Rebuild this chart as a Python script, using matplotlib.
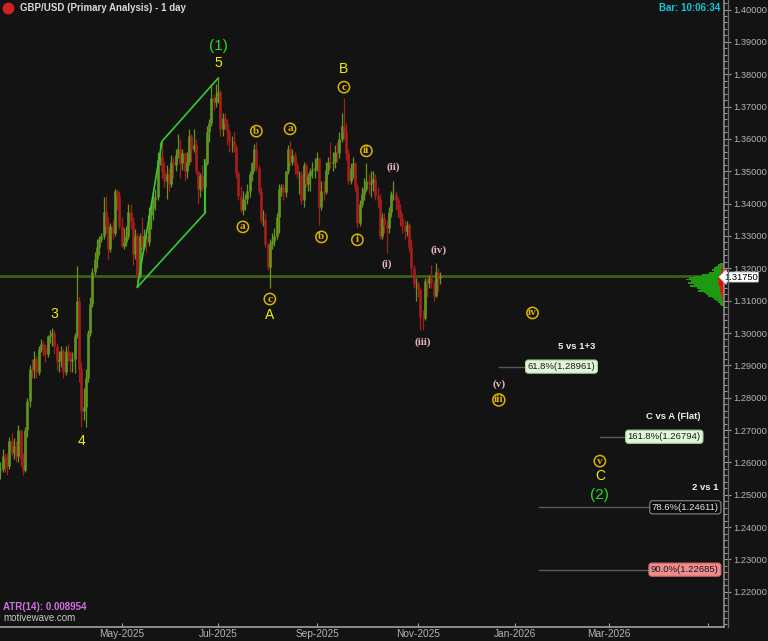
# gbpusd_wave_chart.py - GBP/USD daily bars with Elliott wave count and fib targets

import matplotlib
matplotlib.use("Agg")
import matplotlib.pyplot as plt
import numpy as np
import pandas as pd
from matplotlib.ticker import MultipleLocator, FormatStrFormatter

first_day = "2025-02-14"

opens = [
    1.2575, 1.2580, 1.2620, 1.2615, 1.2590, 1.2665, 1.2630, 1.2650, 1.2620, 1.2700,
    1.2610, 1.2575, 1.2700, 1.2790, 1.2890, 1.2885, 1.2920, 1.2880, 1.2950, 1.2965,
    1.2955, 1.2935, 1.2990, 1.2995, 1.3000, 1.2960, 1.2915, 1.2920, 1.2945, 1.2880,
    1.2945, 1.2940, 1.2915, 1.2920, 1.2990, 1.3100, 1.2890, 1.2760, 1.2770, 1.2860,
    1.3000, 1.3090, 1.3190, 1.3230, 1.3265, 1.3290, 1.3300, 1.3375, 1.3330, 1.3260,
    1.3330, 1.3310, 1.3440, 1.3425, 1.3330, 1.3270, 1.3280, 1.3300, 1.3375, 1.3345,
    1.3245, 1.3300, 1.3180, 1.3300, 1.3265, 1.3300, 1.3280, 1.3365, 1.3385, 1.3415,
    1.3420, 1.3535, 1.3545, 1.3500, 1.3470, 1.3490, 1.3460, 1.3530, 1.3520, 1.3550,
    1.3570, 1.3525, 1.3555, 1.3500, 1.3530, 1.3610, 1.3570, 1.3580, 1.3500, 1.3445,
    1.3485, 1.3450, 1.3525, 1.3620, 1.3650, 1.3725, 1.3715, 1.3730, 1.3745, 1.3630,
    1.3665, 1.3650, 1.3625, 1.3595, 1.3595, 1.3575, 1.3495, 1.3425, 1.3380, 1.3415,
    1.3415, 1.3440, 1.3490, 1.3525, 1.3570, 1.3510, 1.3440, 1.3350, 1.3350, 1.3275,
    1.3205, 1.3275, 1.3285, 1.3300, 1.3360, 1.3445, 1.3450, 1.3435, 1.3500, 1.3570,
    1.3530, 1.3550, 1.3520, 1.3490, 1.3490, 1.3410, 1.3520, 1.3460, 1.3485, 1.3500,
    1.3505, 1.3510, 1.3540, 1.3390, 1.3440, 1.3435, 1.3505, 1.3530, 1.3525, 1.3530,
    1.3560, 1.3555, 1.3600, 1.3640, 1.3620, 1.3555, 1.3470, 1.3510, 1.3525, 1.3450,
    1.3340, 1.3400, 1.3430, 1.3445, 1.3470, 1.3460, 1.3465, 1.3475, 1.3425, 1.3415,
    1.3300, 1.3355, 1.3335, 1.3325, 1.3375, 1.3430, 1.3430, 1.3410, 1.3380, 1.3355,
    1.3330, 1.3315, 1.3335, 1.3265, 1.3200, 1.3150, 1.3150, 1.3135, 1.3050, 1.3045,
    1.3160, 1.3155, 1.3170, 1.3155, 1.3115, 1.3190, 1.3170,
]
highs = [
    1.2600, 1.2640, 1.2630, 1.2630, 1.2680, 1.2690, 1.2675, 1.2665, 1.2715, 1.2700,
    1.2630, 1.2710, 1.2800, 1.2900, 1.2920, 1.2945, 1.2930, 1.2960, 1.2980, 1.2975,
    1.2965, 1.2995, 1.3010, 1.3015, 1.3010, 1.2970, 1.2945, 1.2960, 1.2950, 1.2960,
    1.2965, 1.2945, 1.2940, 1.3000, 1.3207, 1.3110, 1.2910, 1.2830, 1.2890, 1.3010,
    1.3110, 1.3200, 1.3250, 1.3290, 1.3300, 1.3310, 1.3420, 1.3423, 1.3360, 1.3340,
    1.3350, 1.3445, 1.3445, 1.3440, 1.3360, 1.3325, 1.3330, 1.3400, 1.3400, 1.3360,
    1.3320, 1.3310, 1.3310, 1.3360, 1.3320, 1.3320, 1.3390, 1.3400, 1.3440, 1.3445,
    1.3560, 1.3590, 1.3590, 1.3530, 1.3520, 1.3510, 1.3550, 1.3545, 1.3570, 1.3615,
    1.3600, 1.3570, 1.3560, 1.3560, 1.3630, 1.3615, 1.3630, 1.3600, 1.3500, 1.3495,
    1.3520, 1.3530, 1.3640, 1.3660, 1.3770, 1.3740, 1.3770, 1.3788, 1.3750, 1.3680,
    1.3680, 1.3660, 1.3630, 1.3610, 1.3620, 1.3580, 1.3500, 1.3455, 1.3440, 1.3430,
    1.3460, 1.3500, 1.3530, 1.3585, 1.3590, 1.3520, 1.3450, 1.3380, 1.3370, 1.3280,
    1.3290, 1.3310, 1.3325, 1.3370, 1.3460, 1.3460, 1.3460, 1.3500, 1.3580, 1.3595,
    1.3570, 1.3560, 1.3530, 1.3500, 1.3500, 1.3530, 1.3525, 1.3495, 1.3510, 1.3530,
    1.3540, 1.3560, 1.3540, 1.3470, 1.3470, 1.3530, 1.3545, 1.3590, 1.3560, 1.3580,
    1.3590, 1.3620, 1.3680, 1.3726, 1.3650, 1.3570, 1.3525, 1.3545, 1.3530, 1.3460,
    1.3410, 1.3450, 1.3480, 1.3527, 1.3490, 1.3500, 1.3500, 1.3490, 1.3450, 1.3430,
    1.3370, 1.3370, 1.3350, 1.3390, 1.3440, 1.3471, 1.3440, 1.3420, 1.3400, 1.3370,
    1.3350, 1.3345, 1.3340, 1.3290, 1.3210, 1.3170, 1.3160, 1.3140, 1.3070, 1.3170,
    1.3170, 1.3180, 1.3210, 1.3165, 1.3215, 1.3200, 1.3190,
]
lows = [
    1.2550, 1.2570, 1.2570, 1.2560, 1.2580, 1.2620, 1.2610, 1.2600, 1.2600, 1.2590,
    1.2560, 1.2570, 1.2680, 1.2770, 1.2860, 1.2860, 1.2860, 1.2870, 1.2940, 1.2930,
    1.2910, 1.2925, 1.2970, 1.2960, 1.2935, 1.2885, 1.2880, 1.2895, 1.2860, 1.2870,
    1.2915, 1.2880, 1.2880, 1.2875, 1.2985, 1.2850, 1.2708, 1.2730, 1.2710, 1.2850,
    1.2990, 1.3080, 1.3180, 1.3200, 1.3240, 1.3280, 1.3290, 1.3310, 1.3230, 1.3250,
    1.3290, 1.3300, 1.3380, 1.3320, 1.3265, 1.3260, 1.3270, 1.3290, 1.3320, 1.3210,
    1.3230, 1.3140, 1.3170, 1.3260, 1.3260, 1.3250, 1.3270, 1.3320, 1.3350, 1.3380,
    1.3410, 1.3520, 1.3480, 1.3450, 1.3415, 1.3440, 1.3450, 1.3480, 1.3500, 1.3540,
    1.3480, 1.3505, 1.3470, 1.3480, 1.3520, 1.3530, 1.3560, 1.3490, 1.3400, 1.3420,
    1.3440, 1.3370, 1.3520, 1.3590, 1.3640, 1.3690, 1.3700, 1.3710, 1.3610, 1.3610,
    1.3630, 1.3580, 1.3560, 1.3560, 1.3560, 1.3480, 1.3410, 1.3375, 1.3365, 1.3380,
    1.3400, 1.3420, 1.3470, 1.3500, 1.3500, 1.3430, 1.3340, 1.3330, 1.3265, 1.3195,
    1.3140, 1.3260, 1.3270, 1.3290, 1.3310, 1.3425, 1.3410, 1.3420, 1.3490, 1.3520,
    1.3520, 1.3490, 1.3480, 1.3430, 1.3400, 1.3390, 1.3450, 1.3440, 1.3440, 1.3480,
    1.3480, 1.3500, 1.3335, 1.3380, 1.3410, 1.3430, 1.3490, 1.3510, 1.3500, 1.3510,
    1.3530, 1.3540, 1.3590, 1.3600, 1.3535, 1.3460, 1.3460, 1.3480, 1.3440, 1.3325,
    1.3330, 1.3390, 1.3410, 1.3440, 1.3430, 1.3420, 1.3440, 1.3410, 1.3390, 1.3290,
    1.3290, 1.3310, 1.3248, 1.3310, 1.3360, 1.3410, 1.3380, 1.3360, 1.3330, 1.3310,
    1.3290, 1.3300, 1.3250, 1.3180, 1.3140, 1.3100, 1.3110, 1.3010, 1.3010, 1.3040,
    1.3110, 1.3140, 1.3140, 1.3100, 1.3110, 1.3130, 1.3150,
]
closes = [
    1.2580, 1.2620, 1.2615, 1.2590, 1.2665, 1.2630, 1.2650, 1.2620, 1.2700, 1.2610,
    1.2575, 1.2700, 1.2790, 1.2890, 1.2885, 1.2920, 1.2880, 1.2950, 1.2965, 1.2955,
    1.2935, 1.2990, 1.2995, 1.3000, 1.2960, 1.2915, 1.2920, 1.2945, 1.2880, 1.2945,
    1.2940, 1.2915, 1.2920, 1.2990, 1.3100, 1.2890, 1.2760, 1.2770, 1.2860, 1.3000,
    1.3090, 1.3190, 1.3230, 1.3265, 1.3290, 1.3300, 1.3375, 1.3330, 1.3260, 1.3330,
    1.3310, 1.3440, 1.3425, 1.3330, 1.3270, 1.3280, 1.3300, 1.3375, 1.3345, 1.3245,
    1.3300, 1.3180, 1.3300, 1.3265, 1.3300, 1.3280, 1.3365, 1.3385, 1.3415, 1.3420,
    1.3535, 1.3545, 1.3500, 1.3470, 1.3490, 1.3460, 1.3530, 1.3520, 1.3550, 1.3570,
    1.3525, 1.3555, 1.3500, 1.3530, 1.3610, 1.3570, 1.3580, 1.3500, 1.3445, 1.3485,
    1.3450, 1.3525, 1.3620, 1.3650, 1.3725, 1.3715, 1.3730, 1.3745, 1.3630, 1.3665,
    1.3650, 1.3625, 1.3595, 1.3595, 1.3575, 1.3495, 1.3425, 1.3380, 1.3415, 1.3415,
    1.3440, 1.3490, 1.3525, 1.3570, 1.3510, 1.3440, 1.3350, 1.3350, 1.3275, 1.3205,
    1.3275, 1.3285, 1.3300, 1.3360, 1.3445, 1.3450, 1.3435, 1.3500, 1.3570, 1.3530,
    1.3550, 1.3520, 1.3490, 1.3490, 1.3410, 1.3520, 1.3460, 1.3485, 1.3500, 1.3505,
    1.3510, 1.3540, 1.3390, 1.3440, 1.3435, 1.3505, 1.3530, 1.3525, 1.3530, 1.3560,
    1.3555, 1.3600, 1.3640, 1.3620, 1.3555, 1.3470, 1.3510, 1.3525, 1.3450, 1.3340,
    1.3400, 1.3430, 1.3445, 1.3470, 1.3460, 1.3465, 1.3475, 1.3425, 1.3415, 1.3300,
    1.3355, 1.3335, 1.3325, 1.3375, 1.3430, 1.3430, 1.3410, 1.3380, 1.3355, 1.3330,
    1.3315, 1.3335, 1.3265, 1.3200, 1.3150, 1.3150, 1.3135, 1.3050, 1.3045, 1.3160,
    1.3155, 1.3170, 1.3155, 1.3115, 1.3190, 1.3170, 1.3175,
]

last_price = 1.3175

# volume-by-price profile on the right edge (relative volume)
profile_prices = [1.3215, 1.3210, 1.3205, 1.3200, 1.3195, 1.3190, 1.3185, 1.3180, 1.3175,
                  1.3170, 1.3165, 1.3160, 1.3155, 1.3150, 1.3145, 1.3140, 1.3135, 1.3130,
                  1.3125, 1.3120, 1.3115, 1.3110, 1.3105, 1.3100, 1.3095, 1.3090, 1.3085]
profile_volume = [4, 6, 8, 10, 12, 10, 15, 22, 30, 35, 38, 33, 36, 30, 34, 27, 24, 26,
                  20, 18, 16, 12, 10, 8, 6, 4, 3]
profile_sell = [1, 1, 2, 2, 3, 2, 3, 4, 5, 6, 6, 5, 6, 5, 5, 4, 4, 4, 3, 3, 2, 2, 2, 1, 1, 1, 1]

month_ticks = ["2025-05-01", "2025-07-01", "2025-09-01", "2025-11-01",
               "2026-01-01", "2026-03-01", "2026-05-01"]
month_labels = ["May-2025", "Jul-2025", "Sep-2025", "Nov-2025", "Jan-2026", "Mar-2026", ""]

# (date, price, text, style)
wave_labels = [
    ("2025-07-01", 1.3887, "(1)", "primary"),
    ("2025-07-01", 1.3835, "5", "inter"),
    ("2025-03-20", 1.3059, "3", "inter"),
    ("2025-04-07", 1.2666, "4", "inter"),
    ("2025-07-16", 1.3328, "a", "minor"),
    ("2025-07-24", 1.3624, "b", "minor"),
    ("2025-08-01", 1.3105, "c", "minor"),
    ("2025-08-01", 1.3056, "A", "inter"),
    ("2025-08-14", 1.3631, "a", "minor"),
    ("2025-09-03", 1.3297, "b", "minor"),
    ("2025-09-17", 1.3760, "c", "minor"),
    ("2025-09-17", 1.3816, "B", "inter"),
    ("2025-09-25", 1.3288, "i", "minor"),
    ("2025-10-01", 1.3563, "ii", "minor"),
    ("2025-10-14", 1.3213, "(i)", "minute"),
    ("2025-10-17", 1.3513, "(ii)", "minute"),
    ("2025-11-05", 1.2972, "(iii)", "minute"),
    ("2025-11-14", 1.3257, "(iv)", "minute"),
    ("2025-12-23", 1.2842, "(v)", "minute"),
    ("2025-12-23", 1.2793, "iii", "minor"),
    ("2026-01-13", 1.3062, "iv", "minor"),
    ("2026-02-24", 1.2604, "v", "minor"),
    ("2026-02-24", 1.2558, "C", "inter"),
    ("2026-02-24", 1.2499, "(2)", "primary"),
]

# ending diagonal drawn over the rally into wave (1)
diagonal_upper = [("2025-05-12", 1.3142), ("2025-05-27", 1.3593), ("2025-07-01", 1.3788)]
diagonal_lower = [("2025-05-12", 1.3142), ("2025-06-23", 1.3370), ("2025-06-23", 1.3535)]

# fib targets: (line start, box right end, price, header, box text, face, edge, text colour)
fib_targets = [
    ("2025-12-23", "2026-02-20", 1.28961, "5 vs 1+3", "61.8%(1.28961)", "#e2f7da", "#a8d49c", "#1a1a1a"),
    ("2026-02-24", "2026-04-28", 1.26794, "C vs A (Flat)", "161.8%(1.26794)", "#e2f7da", "#a8d49c", "#1a1a1a"),
    ("2026-01-16", "2026-05-08", 1.24611, "2 vs 1", "78.6%(1.24611)", "#0c0c0c", "#8a8a8a", "#e6e6e6"),
    ("2026-01-16", "2026-05-08", 1.22685, "", "90.0%(1.22685)", "#f08c8c", "#c86a6a", "#1a1a1a"),
]

BG = "#131313"
GREEN_BAR = "#64961e"
RED_BAR = "#a51d1d"
AXIS_TEXT = "#b4b4b4"
GOLD = "#dcb400"
PINK = "#e8b4bc"


def bar_index(calendar: pd.DatetimeIndex, date: str) -> int:
    """Position of a date on the trading-bar axis."""
    return int(calendar.searchsorted(pd.Timestamp(date)))


def plot_chart() -> None:
    plt.rcParams['font.family'] = ['Liberation Sans', 'DejaVu Sans']

    calendar = pd.bdate_range(first_day, "2026-06-30")
    n = len(closes)
    x = np.arange(n)
    o, h, l, c = map(np.array, (opens, highs, lows, closes))

    fig = plt.figure(figsize=(7.68, 6.41), dpi=100, facecolor=BG)
    ax = fig.add_axes([0, 14 / 641, 724 / 768, 1 - 14 / 641], facecolor=BG)

    x_right = 322.3
    ax.set_xlim(-0.2, x_right)
    ax.set_ylim(1.20912, 1.40294)

    # current price line
    ax.axhline(last_price, color="#3d5e14", lw=2.0, zorder=1)

    # OHLC bars
    colors = np.where(c >= o, GREEN_BAR, RED_BAR)
    ax.vlines(x, l, h, colors=colors, lw=0.9, zorder=3)
    ax.vlines(x, np.minimum(o, c), np.maximum(o, c), colors=colors, lw=1.9, zorder=3)

    # volume profile
    vol = np.array(profile_volume, dtype=float)
    sell = np.array(profile_sell, dtype=float)
    scale = 17.0 / vol.max()
    ax.barh(profile_prices, vol * scale, left=x_right - vol * scale, height=0.0005,
            color="#1f9a10", lw=0, zorder=2)
    ax.barh(profile_prices, sell * scale, left=x_right - sell * scale, height=0.0005,
            color="#e01010", lw=0, zorder=2)

    # ending diagonal
    for pts in (diagonal_upper, diagonal_lower):
        px = [bar_index(calendar, d) for d, _ in pts]
        py = [p for _, p in pts]
        ax.plot(px, py, color="#33cc33", lw=1.2, zorder=4)

    # wave labels
    for date, price, text, style in wave_labels:
        xi = bar_index(calendar, date)
        if style == "primary":
            ax.text(xi, price, text, color="#22dd22", fontsize=11, ha="center", va="center", zorder=6)
        elif style == "inter":
            ax.text(xi, price, text, color="#f2f200", fontsize=10, ha="center", va="center", zorder=6)
        elif style == "minute":
            ax.text(xi, price, text, color=PINK, fontsize=8, ha="center", va="center",
                    family=["Liberation Serif", "DejaVu Serif"], fontweight="bold", zorder=6)
        else:
            ax.text(xi, price, text, color=GOLD, fontsize=8.2, ha="center", va="center",
                    family=["Liberation Serif", "DejaVu Serif"], fontweight="bold", zorder=6,
                    bbox=dict(boxstyle="circle,pad=0.1", fc="none", ec=GOLD, lw=1.1))

    # fib target boxes
    for start, end, price, header, text, fc, ec, tc in fib_targets:
        x0 = bar_index(calendar, start)
        x1 = bar_index(calendar, end)
        ax.plot([x0, x1 - 5], [price, price], color="#5a5a5a", lw=1.0, zorder=4)
        ax.text(x1, price, text, color=tc, fontsize=6.8, ha="right", va="center", zorder=7,
                bbox=dict(boxstyle="round,pad=0.22,rounding_size=0.3", fc=fc, ec=ec, lw=0.8))
        if header:
            ax.annotate(header, (x1, price), xytext=(0, 11), textcoords="offset points",
                        color="#f0f0f0", fontsize=6.8, fontweight="bold", ha="right",
                        va="bottom", zorder=7)

    # axes styling
    for side in ("top", "left"):
        ax.spines[side].set_visible(False)
    ax.spines["right"].set_color("#8c8c8c")
    ax.spines["bottom"].set_color("#a0a0a0")
    ax.spines["right"].set_linewidth(1.2)
    ax.spines["bottom"].set_linewidth(1.2)

    ax.yaxis.tick_right()
    ax.yaxis.set_major_locator(MultipleLocator(0.01))
    ax.yaxis.set_minor_locator(MultipleLocator(0.002))
    ax.yaxis.set_major_formatter(FormatStrFormatter("%.5f"))
    ax.tick_params(axis="y", which="major", colors="#9a9a9a", labelcolor=AXIS_TEXT,
                   labelsize=6.7, length=5, width=0.8, pad=1.5)
    ax.tick_params(axis="y", which="minor", colors="#9a9a9a", length=2.5, width=0.8)
    ax.set_yticks([t for t in ax.get_yticks() if 1.215 < t < 1.405])

    ax.set_xticks([bar_index(calendar, d) for d in month_ticks])
    ax.set_xticklabels(month_labels)
    ax.tick_params(axis="x", direction="in", colors="#a0a0a0", labelcolor=AXIS_TEXT,
                   labelsize=7.3, length=3, width=0.8, pad=1.5)

    # second separator line of the price scale
    fig.add_artist(plt.Line2D([727.5 / 768] * 2, [14 / 641, 1], color="#6a6a6a", lw=1.0))

    # current price tag
    ax.text(1.0, last_price - 0.0002, "1.31750", transform=ax.get_yaxis_transform(),
            color="black", fontsize=6.7, ha="left", va="center", zorder=8, clip_on=False,
            bbox=dict(boxstyle="larrow,pad=0.05", fc="white", ec="#d0d0d0", lw=0.6))

    # header and footer texts
    fig.add_artist(plt.Line2D([8 / 768], [1 - 8 / 641], marker="o", ms=7.5, color="#d42020"))
    fig.text(20 / 768, 1 - 8 / 641, "GBP/USD (Primary Analysis) - 1 day", color="#d8d8d8",
             fontsize=7, fontweight="bold", ha="left", va="center")
    fig.text(720 / 768, 1 - 8 / 641, "Bar: 10:06:34", color="#10c8d8",
             fontsize=7, fontweight="bold", ha="right", va="center")
    fig.text(3 / 768, 1 - 607 / 641, "ATR(14): 0.008954", color="#d070e0",
             fontsize=7, fontweight="bold", ha="left", va="center")
    fig.text(3 / 768, 1 - 618 / 641, "motivewave.com", color="#c8c8c8",
             fontsize=7, ha="left", va="center")

    fig.savefig("out.png", dpi=100, facecolor=BG)


if __name__ == "__main__":
    plot_chart()
